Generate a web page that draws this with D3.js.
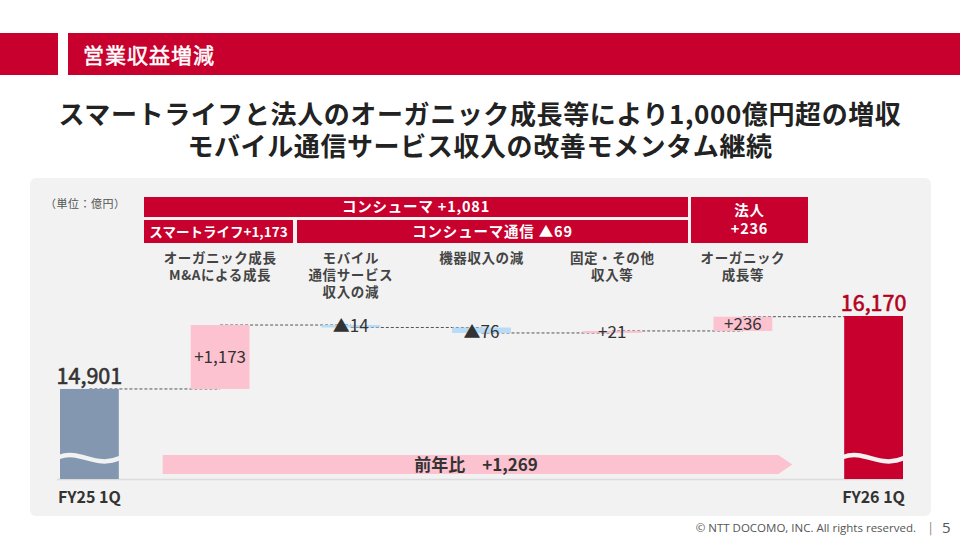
<!DOCTYPE html>
<html>
<head>
<meta charset="utf-8">
<script src="https://cdn.jsdelivr.net/npm/d3@7"></script>
<style>
  html, body { margin: 0; padding: 0; background: #fff; }
  svg { display: block; font-family: "Noto Sans CJK JP", "Noto Sans", sans-serif; }
</style>
</head>
<body>
<div id="container"></div>
<script>
/* DATA */
const steps = ["FY25 1Q", "smartlife", "mobile", "device", "fixed", "corporate", "FY26 1Q"];
const stepValues = [14901, 1173, -14, -76, 21, 236, 16170];
// bar extents as drawn in the slide (億円), small moves are drawn thicker than scale
const barFrom = [13335, 14901, 16013, 15970, 15875, 15910, 13335];
const barTo = [14901, 16013, 15970, 15875, 15910, 16158, 16170];
const barKind = ["start", "up", "down", "down", "up", "up", "end"];

const stepCaptions = [
  [],
  ["オーガニック成長", "M&Aによる成長"],
  ["モバイル", "通信サービス", "収入の減"],
  ["機器収入の減"],
  ["固定・その他", "収入等"],
  ["オーガニック", "成長等"],
  []
];

const groupLabels = ["コンシューマ +1,081", "スマートライフ+1,173", "コンシューマ通信 ▲69", "法人|+236"];
const totalChange = "前年比　+1,269";

/* CONSTANTS AND GLOBALS */
const width = 960,
  height = 540,
  margin = { left: 60, right: 57 },
  chartBottom = 479,
  chartTop = 316;

const colors = {
  red: "#c8002e",
  pink: "#fdc2d0",
  blue: "#b8dcf7",
  slate: "#8497b0",
  text: "#333",
  panel: "#f2f2f2",
  endLabel: "#b4001c"
};

const fmt = d3.format(",");
const isTotal = i => barKind[i] === "start" || barKind[i] === "end";
const valueText = (v, i) => {
  if (isTotal(i)) return fmt(v);
  return v < 0 ? "▲" + fmt(-v) : "+" + fmt(v);
};

/* SCALES */
const xScale = d3.scaleBand()
  .domain(steps)
  .range([margin.left, width - margin.right])
  .paddingInner(0.55)
  .paddingOuter(0);

const yScale = d3.scaleLinear()
  .domain([13335, 16170])
  .range([chartBottom, chartTop]);

const fillFor = k => ({ start: colors.slate, end: colors.red, up: colors.pink, down: colors.blue })[k];
const cx = s => xScale(s) + xScale.bandwidth() / 2;

/* HTML ELEMENTS */
const svg = d3.select("#container")
  .append("svg")
  .attr("width", width)
  .attr("height", height);

// header band
svg.append("rect").attr("x", 0).attr("y", 33).attr("width", 58).attr("height", 42).attr("fill", colors.red);
svg.append("rect").attr("x", 68).attr("y", 33).attr("width", width - 68).attr("height", 42).attr("fill", colors.red);
svg.append("text")
  .attr("x", 83).attr("y", 63)
  .attr("fill", "#fff")
  .attr("stroke", "#fff")
  .attr("stroke-width", 0.5)
  .attr("font-size", 21)
  .attr("letter-spacing", 1)
  .text("営業収益増減");

// headline
svg.append("g")
  .selectAll("text")
  .data(["スマートライフと法人のオーガニック成長等により1,000億円超の増収", "モバイル通信サービス収入の改善モメンタム継続"])
  .join("text")
  .attr("x", width / 2)
  .attr("y", (d, i) => 124 + i * 32)
  .attr("text-anchor", "middle")
  .attr("fill", "#222")
  .attr("font-size", 26)
  .attr("font-weight", 700)
  .attr("letter-spacing", 0.6)
  .text(d => d);

// panel
svg.append("rect")
  .attr("x", 30).attr("y", 178)
  .attr("width", 901).attr("height", 338)
  .attr("rx", 6)
  .attr("fill", colors.panel);

svg.append("text")
  .attr("x", 45).attr("y", 208)
  .attr("fill", "#555")
  .attr("font-size", 11)
  .attr("letter-spacing", 0.5)
  .text("（単位：億円）");

// group boxes
const boxes = [
  { x0: 144, x1: 688, y0: 197, y1: 217 },
  { x0: 144, x1: 293, y0: 220, y1: 243 },
  { x0: 297, x1: 688, y0: 220, y1: 243 },
  { x0: 691, x1: 808, y0: 197, y1: 243 }
];
const boxG = svg.append("g")
  .selectAll("g")
  .data(groupLabels)
  .join("g");

boxG.append("rect")
  .attr("x", (d, i) => boxes[i].x0)
  .attr("y", (d, i) => boxes[i].y0)
  .attr("width", (d, i) => boxes[i].x1 - boxes[i].x0)
  .attr("height", (d, i) => boxes[i].y1 - boxes[i].y0)
  .attr("fill", colors.red);

boxG.each(function(d, i) {
  const lines = d.split("|");
  const b = boxes[i];
  const cy = (b.y0 + b.y1) / 2;
  d3.select(this).selectAll("text")
    .data(lines)
    .join("text")
    .attr("x", (b.x0 + b.x1) / 2)
    .attr("y", (l, j) => cy + 5 + (j - (lines.length - 1) / 2) * 18)
    .attr("text-anchor", "middle")
    .attr("fill", "#fff")
    .attr("font-size", i === 1 ? 13.5 : 14.5)
    .attr("font-weight", 700)
    .attr("letter-spacing", i === 1 ? 0 : 0.8)
    .text(l => l);
});

// captions under boxes
svg.append("g")
  .selectAll("g")
  .data(steps)
  .join("g")
  .each(function(s, i) {
    d3.select(this).selectAll("text")
      .data(stepCaptions[i])
      .join("text")
      .attr("x", cx(s))
      .attr("y", (l, j) => 263 + j * 17)
      .attr("text-anchor", "middle")
      .attr("fill", "#444")
      .attr("font-size", 13.5)
      .attr("font-weight", 700)
      .attr("letter-spacing", 0.6)
      .text(l => l);
  });

// baseline
svg.append("line")
  .attr("x1", margin.left - 3).attr("x2", width - margin.right)
  .attr("y1", chartBottom + 0.5).attr("y2", chartBottom + 0.5)
  .attr("stroke", "#dcdcdc")
  .attr("stroke-width", 1.5);

// connectors (behind bars, centre to centre)
svg.append("g")
  .selectAll("line")
  .data(steps.slice(0, -1))
  .join("line")
  .attr("x1", s => cx(s))
  .attr("x2", (s, i) => cx(steps[i + 1]))
  .attr("y1", (s, i) => yScale(barTo[i]))
  .attr("y2", (s, i) => yScale(barTo[i]))
  .attr("stroke", "#555")
  .attr("stroke-width", 1)
  .attr("stroke-dasharray", "3,2");

// bars
svg.append("g")
  .selectAll("rect")
  .data(steps)
  .join("rect")
  .attr("x", s => xScale(s))
  .attr("width", xScale.bandwidth())
  .attr("y", (s, i) => Math.min(yScale(barFrom[i]), yScale(barTo[i])))
  .attr("height", (s, i) => Math.abs(yScale(barFrom[i]) - yScale(barTo[i])))
  .attr("fill", (s, i) => fillFor(barKind[i]));

// axis break waves on the total bars
svg.append("g")
  .selectAll("path")
  .data(steps.filter((s, i) => isTotal(i)))
  .join("path")
  .attr("d", s => {
    const x0 = xScale(s) - 1, x1 = xScale(s) + xScale.bandwidth() + 1;
    const w = x1 - x0;
    return `M${x0},457 C${x0 + w * 0.35},449 ${x0 + w * 0.6},469 ${x1},458`;
  })
  .attr("fill", "none")
  .attr("stroke", colors.panel)
  .attr("stroke-width", 4.5);

// value labels
svg.append("g")
  .selectAll("text")
  .data(stepValues)
  .join("text")
  .attr("x", (v, i) => cx(steps[i]))
  .attr("y", (v, i) => {
    const top = Math.min(yScale(barFrom[i]), yScale(barTo[i]));
    const bot = Math.max(yScale(barFrom[i]), yScale(barTo[i]));
    if (isTotal(i)) return top - 5;
    if (bot - top > 10) return (top + bot) / 2 + 6;
    return bot + 5;
  })
  .attr("text-anchor", "middle")
  .attr("fill", (v, i) => barKind[i] === "end" ? colors.endLabel : colors.text)
  .attr("stroke", (v, i) => isTotal(i) ? (barKind[i] === "end" ? colors.endLabel : colors.text) : "none")
  .attr("stroke-width", 0.6)
  .attr("font-size", (v, i) => isTotal(i) ? 21.5 : 17)
  .text((v, i) => valueText(v, i));

// year-on-year arrow
const ax0 = xScale(steps[1]) - 28,
  ax1 = xScale(steps[5]) + xScale.bandwidth() + 6,
  ay0 = 455, ay1 = 474;
svg.append("path")
  .attr("d", `M${ax0},${ay0} L${ax1},${ay0} L${ax1 + 14},${(ay0 + ay1) / 2} L${ax1},${ay1} L${ax0},${ay1} Z`)
  .attr("fill", colors.pink);
svg.append("text")
  .attr("x", 476).attr("y", 471)
  .attr("text-anchor", "middle")
  .attr("fill", colors.text)
  .attr("font-size", 17)
  .attr("font-weight", 700)
  .text(totalChange);

// x labels
svg.append("g")
  .selectAll("text")
  .data(steps.filter((s, i) => isTotal(i)))
  .join("text")
  .attr("x", s => cx(s))
  .attr("y", 503)
  .attr("text-anchor", "middle")
  .attr("fill", colors.text)
  .attr("font-size", 16)
  .attr("font-weight", 700)
  .text(s => s);

// footer
svg.append("text")
  .attr("x", 916).attr("y", 532)
  .attr("text-anchor", "end")
  .attr("fill", "#555")
  .attr("font-size", 11.5)
  .attr("font-family", "'Open Sans', sans-serif")
  .text("© NTT DOCOMO, INC.  All rights reserved.");
svg.append("text")
  .attr("x", 929).attr("y", 532)
  .attr("fill", "#777")
  .attr("font-size", 12)
  .text("|");
svg.append("text")
  .attr("x", 942).attr("y", 533)
  .attr("fill", "#555")
  .attr("font-size", 15)
  .attr("font-family", "'Open Sans', sans-serif")
  .text("5");
</script>
</body>
</html>
